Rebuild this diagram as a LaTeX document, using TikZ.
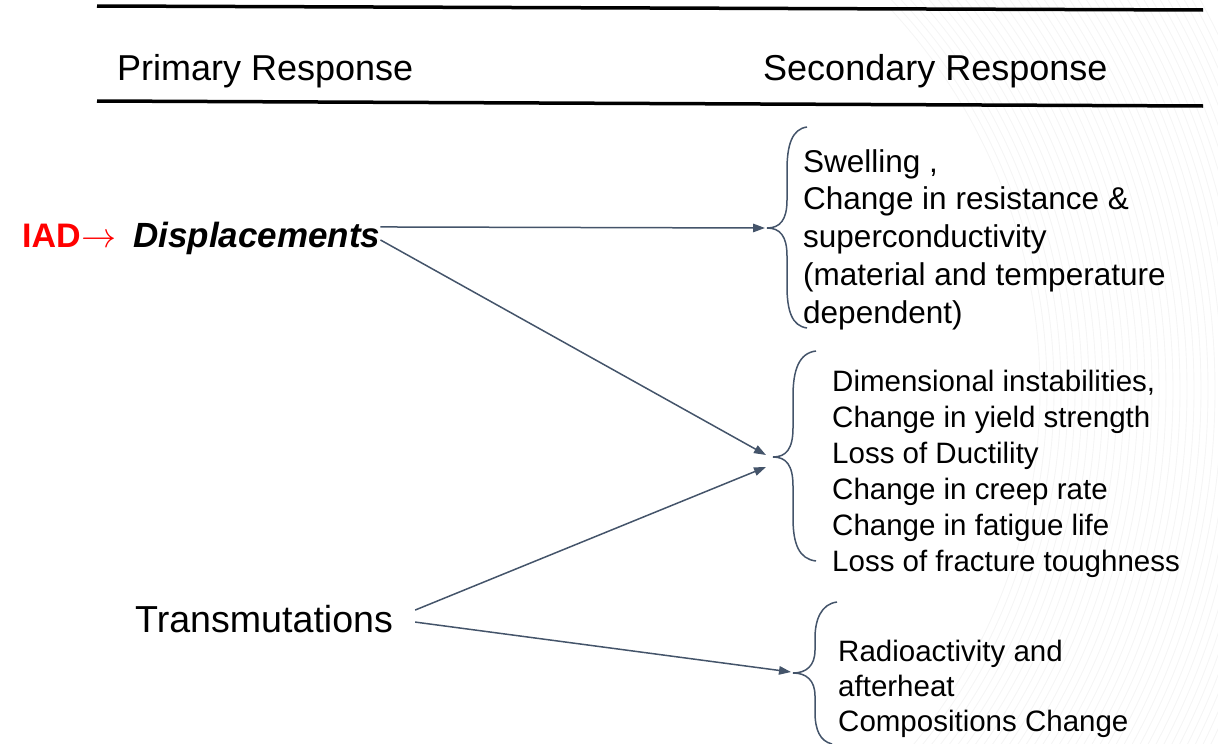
\documentclass[tikz,border=0pt]{standalone}
\usepackage{graphicx}
\usepackage{fontspec}
\setmainfont{Liberation Sans}
\usetikzlibrary{arrows.meta}
\definecolor{slate}{RGB}{68,84,106}
\definecolor{iadred}{RGB}{255,0,0}
\begin{document}
\begin{tikzpicture}[x=1pt,y=-1pt,
  conn/.style={draw=slate, line width=1.5pt, -{Triangle[length=12pt,width=8.5pt]}},
  bracebar/.style={draw=slate, line width=1.5pt},
  rulebar/.style={line width=3.5pt, black},
  txt/.style={anchor=base west, inner sep=0pt, text=black},
  hdr/.style={txt, font=\fontsize{36}{43}\selectfont},
  bone/.style={txt, font=\fontsize{31.5}{38}\selectfont},
  btwo/.style={txt, font=\fontsize{29.5}{36}\selectfont},
]
\useasboundingbox (0,0) rectangle (1218,744);
% faint watermark stripes
\begin{scope}
  \clip (890,0) rectangle (1218,744);
  \foreach \r in {560,567,...,820}
    \draw[black!4, line width=0.9pt] (480,390) circle[radius=\r];
\end{scope}
% header rules
\draw[rulebar] (97,6) -- (1203,10);
\draw[rulebar] (97,101) -- (1203,106);
% headers
\node[hdr] (prim) at (117,80) {Primary Response};
\node[hdr] (sec) at (763,80) {Secondary Response};
% primary responses
\node[txt, text=iadred, font=\fontsize{34}{40}\selectfont\bfseries] (iad) at (22,247) {IAD\kern1pt\scalebox{3.5}{\fontsize{10}{12}\selectfont$\rightarrow$}};
\node[txt, font=\fontsize{35}{42}\selectfont\bfseries\itshape] (disp) at (133,247) {Displacements};
\node[txt, font=\fontsize{37.6}{44}\selectfont] (trans) at (135,632) {Transmutations};
% braces
\draw[bracebar] (807,127) .. controls (792,129) and (787,145) .. (787,170) -- (787,200)
  .. controls (787,220) and (780,228) .. (767,228)
  .. controls (780,228) and (787,236) .. (787,256) -- (787,286)
  .. controls (787,311) and (792,326) .. (807,328);
\coordinate (tip1) at (765,228);
\draw[bracebar] (816,351) .. controls (799,353) and (793,370) .. (793,396) -- (793,428)
  .. controls (793,449) and (786,457) .. (773,457)
  .. controls (786,457) and (793,465) .. (793,486) -- (793,518)
  .. controls (793,544) and (799,559) .. (816,561);
\coordinate (tip2a) at (766,455);
\coordinate (tip2b) at (766,467);
\draw[bracebar] (837,602) .. controls (821,604) and (815,620) .. (815,638) -- (815,650)
  .. controls (815,666) and (806,673) .. (793,673)
  .. controls (806,673) and (815,680) .. (815,696) -- (815,712)
  .. controls (815,730) and (820,741) .. (832,744);
\coordinate (tip3) at (791,672);
% secondary responses
\node[bone] (s1a) at (803,172) {Swelling ,};
\node[bone] (s1b) at (803,209.75) {Change in resistance \&};
\node[bone] (s1c) at (803,247.5) {superconductivity};
\node[bone] (s1d) at (803,285.25) {(material and temperature};
\node[bone] (s1e) at (803,323) {dependent)};
\node[btwo] (s2a) at (832,391.7) {Dimensional instabilities,};
\node[btwo] (s2b) at (832,427.7) {Change in yield strength};
\node[btwo] (s2c) at (832,463.7) {Loss of Ductility};
\node[btwo] (s2d) at (832,499.7) {Change in creep rate};
\node[btwo] (s2e) at (832,535.7) {Change in fatigue life};
\node[btwo] (s2f) at (832,571.7) {Loss of fracture toughness};
\node[btwo] (s3a) at (838,661.7) {Radioactivity and};
\node[btwo] (s3b) at (838,696.7) {afterheat};
\node[btwo] (s3c) at (838,731.7) {Compositions Change};
% connectors
\draw[conn] ([yshift=11pt]disp.east) -- (tip1);
\draw[conn] ([yshift=-2pt]disp.east) -- (tip2a);
\draw[conn] ([xshift=22pt,yshift=8.5pt]trans.east) -- (tip2b);
\draw[conn] ([xshift=22pt,yshift=-3.5pt]trans.east) -- (tip3);
\end{tikzpicture}
\end{document}
